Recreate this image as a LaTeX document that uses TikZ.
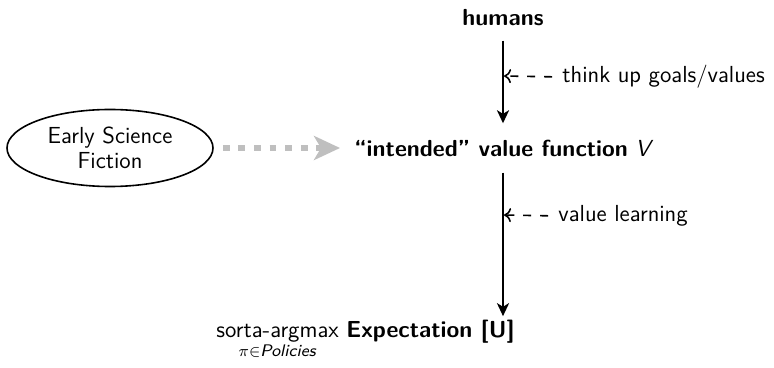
\documentclass[tikz,border=0pt]{standalone}
\usepackage{fontspec}
\usetikzlibrary{arrows.meta,shapes.geometric}
\begin{document}
\begin{tikzpicture}[x=0.5pt,y=-0.5pt,
  font=\fontsize{11.6}{12.5}\selectfont\sffamily,
  mainarrow/.style={line width=1.3pt,-{Stealth[length=6.5pt,width=6pt,inset=1.8pt]}},
  labarrow/.style={line width=0.8pt,dash pattern=on 4pt off 4.4pt,-{To[length=3.5pt,width=7pt]},shorten <=5pt},
  grayarrow/.style={line width=3.4pt,draw=black!25,dash pattern=on 3.4pt off 4.4pt,
     -{Stealth[length=13pt,width=12pt,inset=3.5pt,fill=black!25]}},
  labtext/.style={anchor=west,inner sep=0pt}]
\useasboundingbox (0,0) rectangle (774,368);
\node[inner xsep=0pt,inner ysep=7pt,font=\fontsize{11.6}{12.5}\selectfont\sffamily\bfseries] (humans) at (503,18) {humans};
\node[inner xsep=0pt,inner ysep=8pt] (mid) at (504,148) {\textbf{``intended'' value function} \textit{V}};
\node[anchor=base east,inner sep=0pt] (bot) at (515,337)
  {$\displaystyle\mathop{\mbox{sorta-argmax}}_{\mbox{\fontsize{8.4}{9}\selectfont$\pi{\in}$\textit{Policies}}}$ \textbf{Expectation [U]}};
\node[ellipse,draw,line width=0.8pt,minimum width=103pt,minimum height=38.5pt,inner sep=0pt,align=center] (ell) at (110,148) {Early Science\\Fiction};
\coordinate (l1) at (504,76);
\coordinate (l2) at (504,215);
\node[labtext] (t1) at (562,77) {think up goals/values};
\node[labtext] (t2) at (558,216) {value learning};
\draw[mainarrow] (humans.south) -- (humans.south |- mid.north);
\draw[mainarrow] (humans.south |- mid.south) -- ([yshift=1.5pt]humans.south |- bot.north);
\draw[labarrow] (t1.west) -- (l1);
\draw[labarrow] (t2.west) -- (l2);
\draw[grayarrow,shorten <=4.5pt,shorten >=7pt] (ell.east) -- (ell.east -| mid.west);
\end{tikzpicture}
\end{document}
